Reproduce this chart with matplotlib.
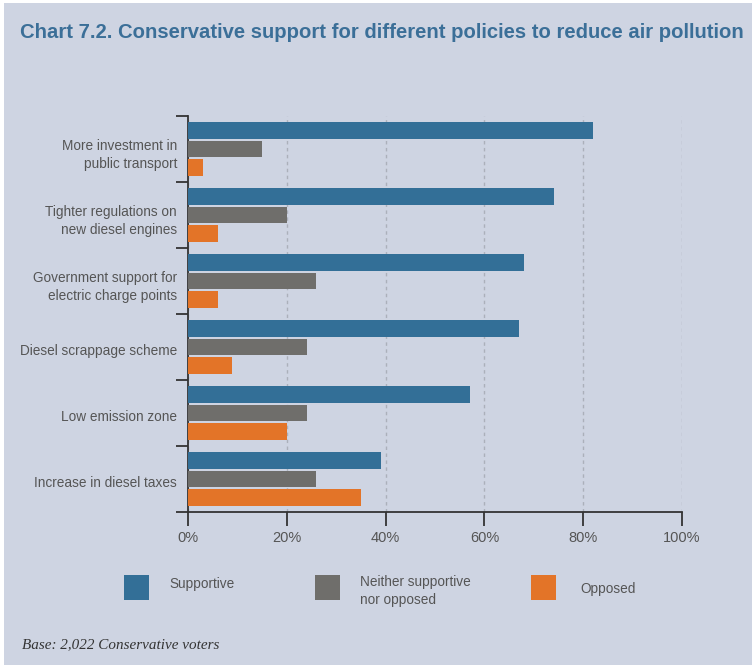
import matplotlib.pyplot as plt
from matplotlib.patches import Rectangle
from matplotlib.transforms import ScaledTranslation
import numpy as np

# Data
policies = [
    'More investment in\npublic transport',
    'Tighter regulations on\nnew diesel engines',
    'Government support for\nelectric charge points',
    'Diesel scrappage scheme',
    'Low emission zone',
    'Increase in diesel taxes',
]
supportive = [82, 74, 68, 67, 57, 39]
neither = [15, 20, 26, 24, 24, 26]
opposed = [3, 6, 6, 9, 20, 35]

series_names = ['Supportive', 'Neither supportive\nnor opposed', 'Opposed']
series_colors = ['#336F97', '#6F6E6B', '#E37428']

BG = '#CED4E2'
TEXT = '#555555'

plt.rcParams['font.family'] = ['Liberation Sans', 'DejaVu Sans']

fig = plt.figure(figsize=(7.52, 6.67), dpi=100, facecolor='white')
fig.patches.append(Rectangle((4 / 752, 2 / 667), 1, 662 / 667, transform=fig.transFigure,
                             facecolor=BG, edgecolor='none', zorder=-10))

ax = fig.add_axes([188 / 752, 1 - 512 / 667, 494 / 752, 396 / 667])
ax.set_facecolor('none')

y = np.arange(len(policies))
h = 0.245
off = 0.28
for vals, dy, col in zip([supportive, neither, opposed], [-off, 0, off], series_colors):
    ax.barh(y + dy, vals, height=h, color=col, zorder=3)

ax.set_xlim(0, 100)
ax.set_ylim(len(policies) - 0.5, -0.5)

# x axis
ax.set_xticks(range(0, 101, 20))
ax.set_xticklabels([f'{v}%' for v in range(0, 101, 20)])
ax.tick_params(axis='x', direction='out', length=10, width=1.3, color='#333333',
               labelsize=10.5, labelcolor=TEXT, pad=4)
ax.grid(axis='x', color='#ABB0BA', linestyle=(0, (2.5, 2.5)), linewidth=1, zorder=1)

# y axis: boundary ticks, labels centred between them
ax.set_yticks(np.arange(-0.5, len(policies), 1.0))
ax.set_yticklabels([])
ax.tick_params(axis='y', which='major', direction='out', length=8.6, width=1.3, color='#333333')
ax.set_yticks(y, minor=True)
ax.set_yticklabels(policies, minor=True, ha='right', linespacing=1.4)
ax.tick_params(axis='y', which='minor', length=0, pad=8, labelsize=9.8, labelcolor=TEXT)
shift = ScaledTranslation(0, -0.025, fig.dpi_scale_trans)
for lab in ax.get_yticklabels(minor=True):
    lab.set_transform(lab.get_transform() + shift)

for s in ['top', 'right']:
    ax.spines[s].set_visible(False)
for s in ['left', 'bottom']:
    ax.spines[s].set_color('#333333')
    ax.spines[s].set_linewidth(1.3)

# title and note
fig.text(20 / 752, 1 - 33 / 667, 'Chart 7.2. Conservative support for different policies to reduce air pollution',
         fontsize=14.6, fontweight='bold', color='#3B6F98', va='center', ha='left')
fig.text(22 / 752, 1 - 645 / 667, 'Base: 2,022 Conservative voters', family='Liberation Serif',
         style='italic', fontsize=10.9, color='#333333', va='center')

# legend
leg_sq_x = [124, 315, 531]
leg_txt_x = [169, 360, 580]
for name, col, sx, tx in zip(series_names, series_colors, leg_sq_x, leg_txt_x):
    fig.patches.append(Rectangle((sx / 752, 1 - 600 / 667), 25 / 752, 25 / 667,
                                 transform=fig.transFigure, facecolor=col, edgecolor='none'))
    ty = 591 if '\n' in name else (584 if name == 'Supportive' else 589)
    fig.text(tx / 752, 1 - ty / 667, name, fontsize=9.8, color=TEXT, va='center', ha='left',
             linespacing=1.45)

fig.savefig('out.png', dpi=100, facecolor=fig.get_facecolor())
